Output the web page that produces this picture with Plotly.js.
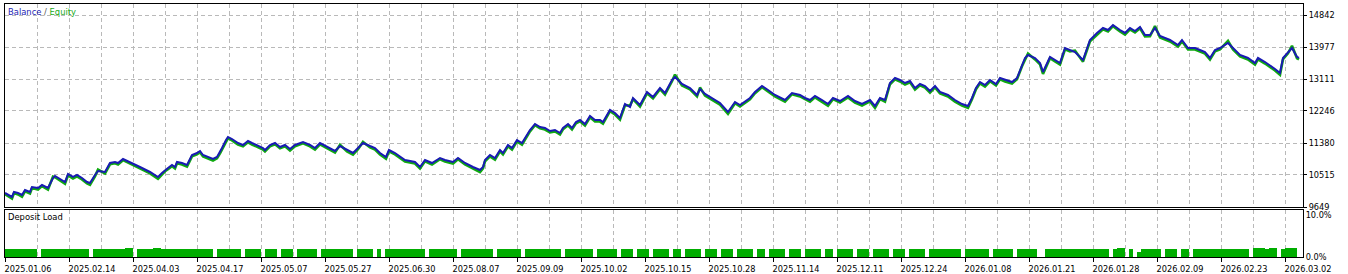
<!DOCTYPE html>
<html><head><meta charset="utf-8">
<script src="https://cdn.plot.ly/plotly-3.0.1.min.js"></script>
<style>html,body{margin:0;padding:0;background:#fff;overflow:hidden}#chart{width:1348px;height:274px}</style>
</head><body><div id="chart"></div>
<script>
// deal number (trade sequence) for each balance/equity reading
const deals = [0,6,14,18,26,34,40,50,54,66,74,86,96,100,114,120,126,136,144,154,164,170,180,186,200,210,220,226,236,250,270,290,306,314,320,326,334,340,344,354,364,374,384,390,396,416,424,430,434,442,446,454,466,476,486,494,506,516,520,530,540,550,560,570,580,590,596,610,620,630,644,660,670,684,696,706,716,730,740,750,762,768,780,800,820,830,840,854,870,880,896,906,920,936,950,956,960,970,980,990,996,1006,1014,1024,1034,1050,1060,1070,1080,1090,1100,1110,1116,1126,1134,1142,1150,1160,1170,1180,1190,1196,1210,1220,1230,1240,1250,1256,1270,1284,1296,1310,1320,1334,1340,1354,1370,1384,1390,1400,1414,1430,1446,1460,1470,1490,1500,1514,1526,1540,1560,1574,1590,1600,1610,1620,1634,1646,1656,1670,1686,1700,1714,1730,1740,1750,1760,1770,1780,1790,1800,1810,1820,1830,1840,1850,1860,1870,1886,1900,1914,1926,1934,1942,1950,1960,1970,1982,1990,2000,2014,2024,2034,2040,2046,2060,2070,2076,2090,2100,2110,2120,2130,2140,2156,2170,2184,2196,2206,2216,2230,2240,2250,2260,2270,2280,2290,2300,2310,2330,2346,2354,2366,2380,2390,2400,2410,2420,2430,2446,2456,2470,2486,2500,2506,2520,2540,2550,2556,2566,2574,2584,2588];
const balance = [10028,9974,9920,10055,10028,9974,10109,10055,10190,10163,10244,10163,10434,10488,10379,10325,10542,10461,10515,10434,10325,10298,10515,10623,10596,10839,10866,10839,10947,10866,10731,10596,10461,10569,10650,10704,10785,10731,10866,10839,10785,11056,11110,11164,11056,10947,11002,11137,11245,11461,11543,11488,11380,11326,11434,11380,11299,11245,11191,11326,11380,11272,11326,11218,11326,11380,11407,11326,11245,11380,11272,11164,11299,11191,11110,11245,11380,11299,11245,11110,11002,11191,11110,10920,10866,10731,10920,10839,10974,10920,10866,10974,10839,10731,10650,10731,10920,11056,10974,11191,11110,11326,11245,11461,11380,11732,11894,11813,11786,11705,11732,11651,11786,11894,11786,11948,12002,11894,12111,12002,12002,11948,12273,12192,12056,12435,12354,12598,12408,12760,12625,12868,12733,13084,13166,12976,12868,12679,12841,12706,12598,12462,12219,12489,12408,12598,12760,12922,12814,12679,12543,12733,12679,12598,12543,12652,12543,12435,12598,12516,12652,12516,12435,12543,12381,12598,12543,13003,13138,13084,13003,13057,12868,12976,12922,12787,12922,12760,12679,12543,12435,12381,12598,12868,13030,12949,13084,12976,13138,13084,13030,13138,13490,13680,13761,13680,13544,13301,13707,13625,13544,13950,13896,13842,13625,14166,14356,14491,14437,14572,14437,14356,14491,14410,14518,14302,14302,14491,14275,14166,14031,14166,13950,13950,13896,13842,13680,13896,13950,14085,13950,13761,13680,13544,13680,13571,13382,13274,13680,13842,13950,13707,13680];
const equity = [9995,9935,9880,10025,9990,9930,10075,10015,10160,10120,10215,10120,10470,10455,10340,10280,10505,10420,10480,10395,10285,10250,10480,10660,10555,10805,10830,10800,10915,10825,10695,10560,10410,10535,10615,10670,10750,10690,10830,10800,10740,11020,11075,11130,11015,10905,10965,11100,11210,11425,11510,11450,11340,11290,11400,11340,11260,11205,11150,11290,11345,11235,11290,11175,11290,11345,11370,11290,11200,11345,11235,11120,11330,11150,11065,11210,11410,11260,11205,11070,10955,11155,11070,10880,10825,10690,10885,10800,10940,10880,10825,10940,10800,10690,10595,10695,10885,11020,10930,11155,11070,11290,11205,11425,11335,11695,11860,11775,11745,11665,11695,11610,11750,11860,11745,11915,11965,11850,12075,11960,11960,11905,12240,12150,12015,12400,12390,12565,12365,12725,12585,12835,12690,13050,13230,12935,12830,12640,12880,12665,12560,12420,12170,12455,12370,12565,12725,12890,12775,12640,12500,12700,12640,12560,12500,12615,12500,12390,12565,12475,12615,12475,12390,12505,12330,12565,12500,12970,13105,13045,12960,13020,12825,12940,12880,12745,12885,12720,12640,12500,12390,12330,12565,12835,12995,12905,13050,12935,13105,13045,12990,13105,13455,13645,13800,13640,13505,13250,13675,13585,13500,13915,13860,13880,13580,14130,14320,14455,14400,14540,14400,14315,14455,14370,14485,14260,14265,14545,14235,14125,13990,14130,13910,13910,13855,13800,13640,13860,13915,14140,13910,13720,13640,13500,13645,13530,13340,13225,13645,13805,14010,13670,13640];
// deposit load (%) per bin of 8 deals
const depositLoad = [
1.8,1.8,1.8,1.8,1.8,1.8,1.8,1.8,0,1.8,
1.8,1.8,1.8,1.8,1.8,1.8,1.8,1.8,1.8,1.8,
1.8,0,1.8,1.8,1.8,1.8,1.8,1.8,1.8,1.8,
2.1,2.1,0,1.8,1.8,1.8,1.8,2.1,2.1,1.8,
1.8,1.8,1.8,1.8,1.8,1.8,1.8,1.8,1.8,1.8,
1.8,1.8,0,1.8,1.8,1.8,1.8,1.8,1.8,0,
1.8,1.8,1.8,1.8,0,1.8,1.8,1.8,0,1.8,
1.8,1.8,0,1.8,1.8,1.8,1.8,1.8,0,1.8,
1.8,1.8,1.8,1.8,1.8,1.8,1.8,0,1.8,1.8,
1.8,1.8,0,1.8,0,1.8,1.8,1.8,1.8,1.8,
1.8,1.8,1.8,1.8,1.8,0,1.8,1.8,1.8,1.8,
1.8,1.8,1.8,0,1.8,1.8,1.8,1.8,1.8,1.8,
1.8,1.8,0,1.8,1.8,1.8,1.8,1.8,1.8,0,
1.8,1.8,1.8,1.8,1.8,1.8,1.8,1.8,1.8,0,
1.8,1.8,1.8,1.8,1.8,1.8,1.8,0,1.8,1.8,
1.8,1.8,1.8,0,1.8,1.8,1.8,0,1.8,1.8,
1.8,0,1.8,1.8,1.8,1.8,0,1.8,1.8,0,
1.8,1.8,1.8,1.8,0,1.8,1.8,1.8,0,1.8,
1.8,1.8,0,1.8,1.8,1.8,1.8,0,1.8,1.8,
0,1.8,1.8,1.8,1.8,0,1.8,1.8,1.8,0,
1.8,1.8,1.8,1.8,0,1.8,1.8,0,1.8,1.8,
1.8,1.8,0,1.8,1.8,1.8,0,1.8,1.8,1.8,
1.8,0,1.8,1.8,1.8,0,1.8,1.8,1.8,1.8,
0,1.8,1.8,1.8,1.8,1.8,1.8,1.8,1.8,0,
1.8,1.8,1.8,1.8,1.8,1.8,0,1.8,1.8,1.8,
1.8,1.8,0,1.8,1.8,1.8,1.8,1.8,0,0,
1.8,1.8,1.8,1.8,1.8,1.8,1.8,1.8,1.8,1.8,
1.8,1.8,1.8,1.8,1.8,1.8,0,1.8,2.1,2.1,
0,1.8,0,1.2,1.8,1.8,1.8,1.8,1.8,0,
1.8,1.8,1.8,0,1.8,1.8,0,1.8,1.8,1.8,
1.8,1.8,1.8,1.8,1.8,1.8,1.8,1.8,1.8,1.8,
1.8,0,2.1,2.1,2.1,1.8,2.1,2.1,0,1.8,
2.1,2.1,2.1,0];
const loadBin = 8;
const dateLabels = ['2025.01.06','2025.02.14','2025.04.03','2025.04.17','2025.05.07','2025.05.27','2025.06.30','2025.08.07','2025.09.09','2025.10.02','2025.10.15','2025.10.28','2025.11.14','2025.12.11','2025.12.24','2026.01.08','2026.01.21','2026.01.28','2026.02.09','2026.02.23','2026.03.02'];
const balanceTicks = [9649,10515,11380,12246,13111,13977,14842];
const loadTicks = [0,10];
const loadTickText = ['0.0%','10.0%'];

const W = 1348, H = 274;
const fx = p => p / W, fy = p => 1 - p / H;
const labelStep = 128, gridStep = 64, dealMax = 2596;
const majorVals = dateLabels.map((_, i) => i * labelStep);
const minorVals = dateLabels.slice(0, -1).map((_, i) => i * labelStep + gridStep);
const FONT = 'DejaVu Sans, sans-serif';
const GRID = '#b9b9b9', DASH = '4px,3px';

const traces = [
  {x: deals, y: equity, type: 'scatter', mode: 'lines', line: {color: '#10aa10', width: 2.6}, xaxis: 'x', yaxis: 'y', hoverinfo: 'skip'},
  {x: deals, y: balance, type: 'scatter', mode: 'lines', line: {color: '#1a1ab4', width: 2}, xaxis: 'x', yaxis: 'y', hoverinfo: 'skip'},
  {x: depositLoad.map((_, i) => i * loadBin + loadBin / 2), y: depositLoad, type: 'bar', width: loadBin,
   marker: {color: '#00ad00', line: {width: 0}}, xaxis: 'x2', yaxis: 'y2', hoverinfo: 'skip'}
];

const xCommon = {
  domain: [fx(5), fx(1303)], range: [0, dealMax], tickvals: majorVals,
  showgrid: true, gridcolor: GRID, griddash: DASH, gridwidth: 1,
  minor: {tickvals: minorVals, showgrid: true, gridcolor: GRID, griddash: DASH, gridwidth: 1, ticks: ''},
  showline: true, mirror: true, linecolor: '#000', linewidth: 1, zeroline: false, fixedrange: true
};

const layout = {
  width: W, height: H, margin: {l: 0, r: 0, t: 0, b: 0, pad: 0},
  paper_bgcolor: '#fff', plot_bgcolor: '#fff', showlegend: false, bargap: 0,
  font: {family: FONT, size: 8.2, color: '#000'},
  xaxis: Object.assign({}, xCommon, {anchor: 'y', showticklabels: false, ticks: ''}),
  xaxis2: Object.assign({}, xCommon, {anchor: 'y2', ticktext: dateLabels, ticks: 'outside', ticklen: 4,
    tickcolor: '#000', ticklabelshift: 23, tickfont: {family: FONT, size: 8.2, color: '#000'}}),
  yaxis: {domain: [fy(207), fy(4)], range: [9649, 15140], anchor: 'x', side: 'right',
    tickvals: balanceTicks, ticktext: balanceTicks.map(String), ticks: 'outside', ticklen: 3, tickcolor: '#000',
    showgrid: true, gridcolor: GRID, griddash: DASH, showline: true, mirror: true, linecolor: '#000',
    zeroline: false, fixedrange: true, tickfont: {family: FONT, size: 8.2, color: '#000'}},
  yaxis2: {domain: [fy(257), fy(209.5)], range: [0, 11.31], anchor: 'x2', side: 'right',
    tickvals: loadTicks, ticktext: loadTickText, ticks: '', showgrid: false, showline: true, mirror: true,
    linecolor: '#000', zeroline: false, fixedrange: true, tickfont: {family: FONT, size: 8.2, color: '#000'}},
  annotations: [
    {xref: 'paper', yref: 'paper', x: fx(6), y: fy(12), xanchor: 'left', yanchor: 'middle', showarrow: false,
     text: '<span style="color:#2323b4">Balance</span><span style="color:#555"> / </span><span style="color:#1aab1a">Equity</span>',
     font: {family: FONT, size: 8.4}},
    {xref: 'paper', yref: 'paper', x: fx(6), y: fy(217), xanchor: 'left', yanchor: 'middle', showarrow: false,
     text: 'Deposit Load', font: {family: FONT, size: 8.4, color: '#000'}}
  ]
};

Plotly.newPlot('chart', traces, layout, {staticPlot: true, displayModeBar: false});
</script>
</body></html>
